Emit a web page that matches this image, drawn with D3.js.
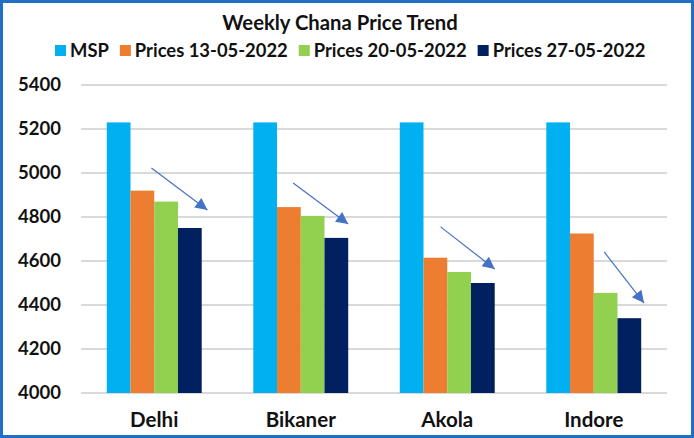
<!DOCTYPE html>
<html><head><meta charset="utf-8">
<script src="https://cdn.jsdelivr.net/npm/d3@7"></script>
<style>html,body{margin:0;padding:0;background:#fff;}svg{display:block;}</style>
</head><body>
<svg id="chart" width="694" height="438"></svg>
<script>
const categories = ["Delhi", "Bikaner", "Akola", "Indore"];
const seriesNames = ["MSP", "Prices 13-05-2022", "Prices 20-05-2022", "Prices 27-05-2022"];
const msp      = [5230, 5230, 5230, 5230];
const prices13 = [4920, 4845, 4615, 4725];
const prices20 = [4870, 4805, 4550, 4455];
const prices27 = [4750, 4705, 4500, 4340];
const yTicks = [4000, 4200, 4400, 4600, 4800, 5000, 5200, 5400];
const colors = ["#00b0f0", "#ed7d31", "#92d050", "#002060"];
// trend arrows: [category, start band fraction, start value, end band fraction, end value]
const arrowCats   = ["Delhi", "Bikaner", "Akola", "Indore"];
const arrowStartF = [0.47, 0.42, 0.43, 0.61];
const arrowStartV = [5023, 4955, 4755, 4641];
const arrowEndF   = [1.06, 1.00, 1.00, 1.03];
const arrowEndV   = [4832, 4768, 4564, 4409];

const series = [msp, prices13, prices20, prices27];
const W = 694, H = 438;
const svg = d3.select("#chart");
const FONT = "Lato, 'Open Sans', sans-serif";

// frame
svg.append("rect").attr("x", 1.5).attr("y", 1.5).attr("width", W - 3).attr("height", H - 3)
  .attr("fill", "#fff").attr("stroke", "#1f6fc5").attr("stroke-width", 3);

const plot = {left: 81, right: 667, top: 85, bottom: 393};
const x = d3.scaleBand().domain(categories).range([plot.left, plot.right])
  .paddingInner(0.352).paddingOuter(0.176);
const xs = d3.scaleBand().domain(d3.range(series.length)).range([0, x.bandwidth()]);
const y = d3.scaleLinear().domain([4000, 5400]).range([plot.bottom, plot.top]);

// gridlines
svg.append("g").selectAll("line").data(yTicks).join("line")
  .attr("x1", plot.left).attr("x2", plot.right)
  .attr("y1", d => y(d)).attr("y2", d => y(d))
  .attr("stroke", "#d9d9d9").attr("stroke-width", 2);

// y axis labels
const yAxis = d3.axisLeft(y).tickValues(yTicks).tickSize(0).tickPadding(0).tickFormat(d3.format("d"));
const yg = svg.append("g").attr("transform", `translate(${61},0)`).call(yAxis);
yg.select(".domain").remove();
yg.selectAll("text").attr("font-family", FONT).attr("font-weight", "bold")
  .attr("font-size", 18.5).attr("fill", "#111");

// bars
const groups = svg.append("g").selectAll("g").data(categories).join("g")
  .attr("transform", d => `translate(${x(d)},0)`);
groups.selectAll("rect").data((c, i) => series.map((s, k) => ({k, v: s[i]}))).join("rect")
  .attr("x", d => xs(d.k)).attr("width", xs.bandwidth())
  .attr("y", d => y(d.v)).attr("height", d => y(4000) - y(d.v))
  .attr("fill", d => colors[d.k]);

// x axis labels
const xAxis = d3.axisBottom(x).tickSize(0).tickPadding(0);
const xg = svg.append("g").attr("transform", `translate(0,${427})`).call(xAxis);
xg.select(".domain").remove();
xg.selectAll("text").attr("font-family", FONT).attr("font-weight", "bold")
  .attr("font-size", 20.5).attr("fill", "#111").attr("dy", "0");

// arrows
const defs = svg.append("defs");
defs.append("marker").attr("id", "ah").attr("viewBox", "0 0 10 10")
  .attr("refX", 10).attr("refY", 5).attr("markerWidth", 16).attr("markerHeight", 12)
  .attr("markerUnits", "userSpaceOnUse").attr("orient", "auto")
  .append("path").attr("d", "M0,0 L10,5 L0,10 Z").attr("fill", "#4472c4");
svg.append("g").selectAll("line").data(arrowCats).join("line")
  .attr("x1", (c, i) => x(c) + arrowStartF[i] * x.bandwidth())
  .attr("y1", (c, i) => y(arrowStartV[i]))
  .attr("x2", (c, i) => x(c) + arrowEndF[i] * x.bandwidth())
  .attr("y2", (c, i) => y(arrowEndV[i]))
  .attr("stroke", "#4472c4").attr("stroke-width", 1.2).attr("marker-end", "url(#ah)");

// title
svg.append("text").attr("x", 340).attr("y", 29.5).attr("text-anchor", "middle")
  .attr("font-family", FONT).attr("font-weight", "bold").attr("font-size", 20.3).attr("fill", "#111")
  .text("Weekly Chana Price Trend");

// legend
const legend = svg.append("g").attr("transform", "translate(55,56.5)");
let lx = 0;
const legendGap = 11;
seriesNames.forEach((name, i) => {
  const g = legend.append("g").attr("transform", `translate(${lx},0)`);
  g.append("rect").attr("x", 0).attr("y", -11.5).attr("width", 11).attr("height", 11).attr("fill", colors[i]);
  const t = g.append("text").attr("x", 15).attr("y", 0)
    .attr("font-family", FONT).attr("font-weight", "bold").attr("font-size", 18.4).attr("fill", "#111")
    .text(name);
  lx += 15 + t.node().getComputedTextLength() + legendGap;
});
</script>
</body></html>
